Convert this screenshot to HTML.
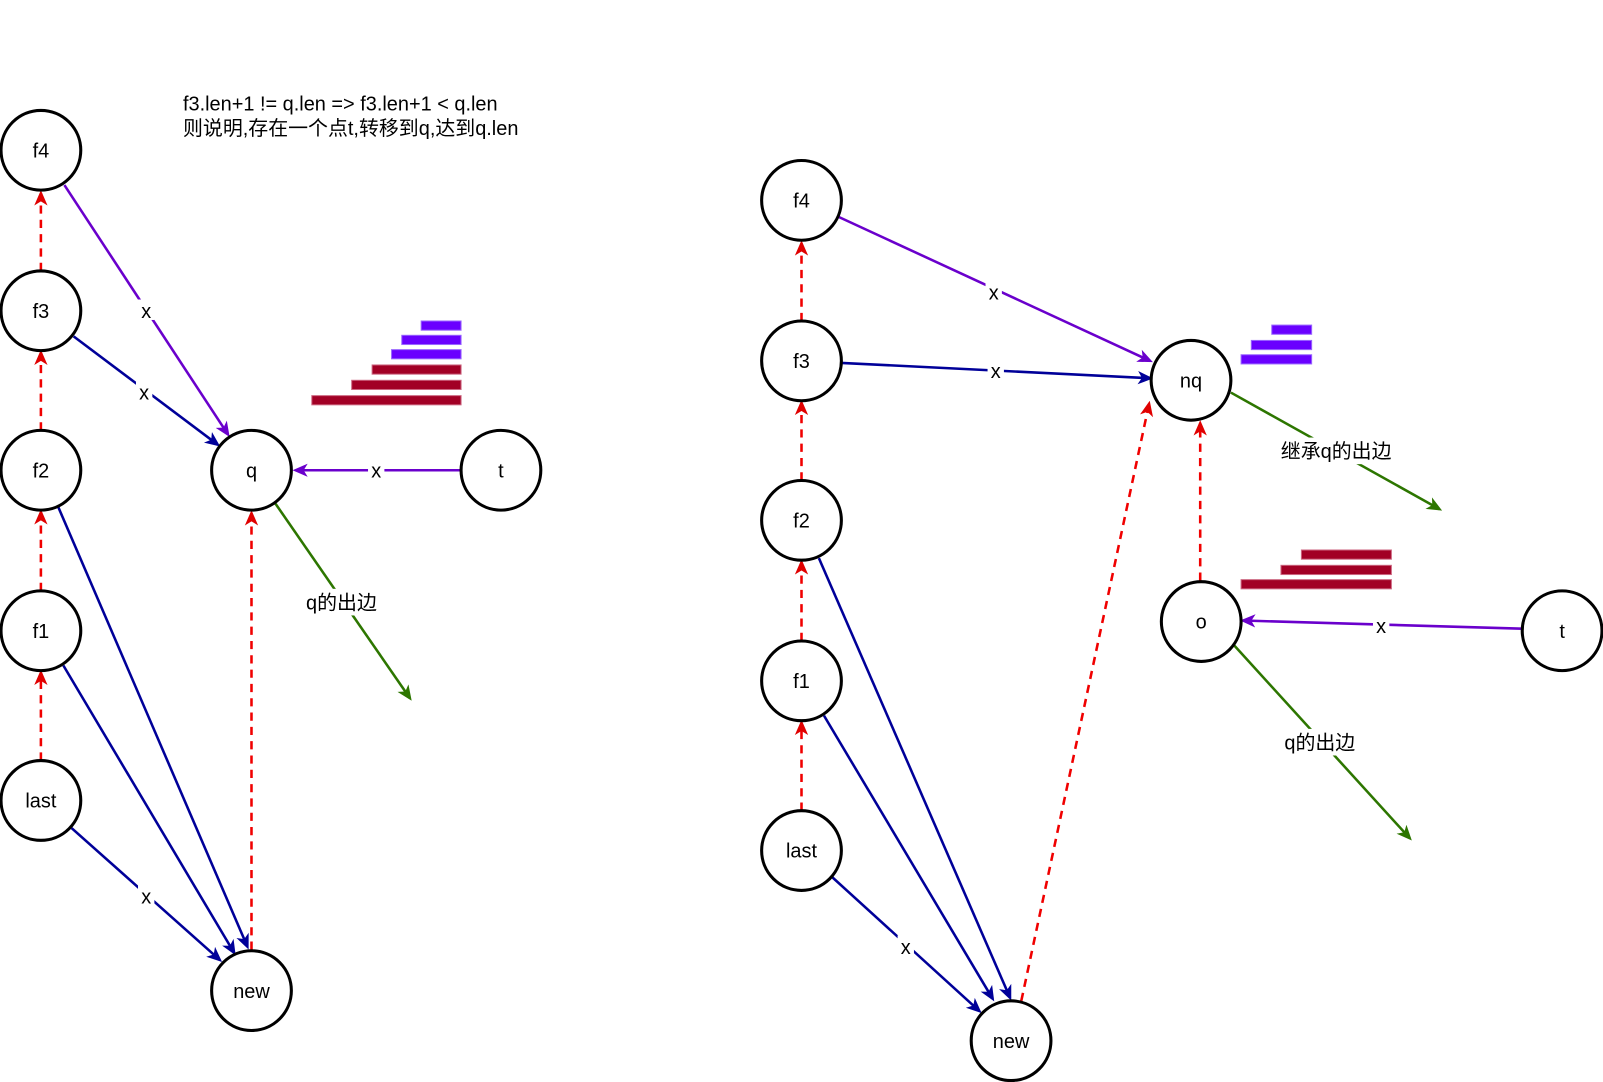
<!DOCTYPE html>
<html><head><meta charset="utf-8"><style>
html,body{margin:0;padding:0;background:#fff;}
svg{display:block;}
text{font-family:"Liberation Sans","Noto Sans CJK SC",sans-serif;font-size:19.5px;fill:#000;}
</style></head><body>
<svg width="1603" height="1082" viewBox="0 0 1568 1058.4" preserveAspectRatio="none" xmlns="http://www.w3.org/2000/svg">
<defs>
<marker id="mb" markerWidth="15" markerHeight="15" refX="12" refY="7.5" orient="auto" markerUnits="userSpaceOnUse"><path d="M0,1 L15,7.5 L0,14 L4,7.5 Z" fill="#000099"/></marker>
<marker id="mp" markerWidth="15" markerHeight="15" refX="12" refY="7.5" orient="auto" markerUnits="userSpaceOnUse"><path d="M0,1 L15,7.5 L0,14 L4,7.5 Z" fill="#6a00cc"/></marker>
<marker id="mr" markerWidth="15" markerHeight="15" refX="12" refY="7.5" orient="auto" markerUnits="userSpaceOnUse"><path d="M0,1 L15,7.5 L0,14 L4,7.5 Z" fill="#e00000"/></marker>
<marker id="mg" markerWidth="15" markerHeight="15" refX="12" refY="7.5" orient="auto" markerUnits="userSpaceOnUse"><path d="M0,1 L15,7.5 L0,14 L4,7.5 Z" fill="#2d7600"/></marker>
</defs>
<g fill="none" stroke-width="2.5">
<g stroke="#f00000" stroke-dasharray="8,6" marker-end="url(#mr)">
<line x1="40" y1="265" x2="40" y2="189"/>
<line x1="40" y1="421" x2="40" y2="345"/>
<line x1="40" y1="578" x2="40" y2="501"/>
<line x1="40" y1="744" x2="40" y2="658"/>
<line x1="246" y1="929" x2="246" y2="502"/>
<line x1="784" y1="314" x2="784" y2="238"/>
<line x1="784" y1="470" x2="784" y2="394"/>
<line x1="784" y1="627" x2="784" y2="550"/>
<line x1="784" y1="793" x2="784" y2="707"/>
<line x1="999" y1="979" x2="1124" y2="395"/>
<line x1="1174" y1="568" x2="1174" y2="414"/>
</g>
<g stroke="#6a00cc" marker-end="url(#mp)">
<line x1="63" y1="181" x2="223" y2="425"/>
<line x1="451" y1="460" x2="289" y2="460"/>
<line x1="820" y1="212" x2="1125" y2="353"/>
<line x1="1489" y1="615" x2="1216" y2="607"/>
</g>
<g stroke="#000099" marker-end="url(#mb)">
<line x1="72" y1="329" x2="213" y2="435"/>
<line x1="57" y1="496" x2="242" y2="926"/>
<line x1="62" y1="651" x2="229" y2="932"/>
<line x1="70" y1="810" x2="215" y2="939"/>
<line x1="823" y1="355" x2="1125" y2="370"/>
<line x1="801" y1="546" x2="988" y2="976"/>
<line x1="806" y1="700" x2="971" y2="977"/>
<line x1="814" y1="858" x2="958" y2="989"/>
</g>
<g stroke="#2d7600" marker-end="url(#mg)">
<line x1="269" y1="492" x2="401" y2="683"/>
<line x1="1204" y1="384" x2="1408" y2="498"/>
<line x1="1206" y1="630" x2="1379" y2="820"/>
</g>
<g stroke="#000" fill="#fff" stroke-width="3">
<circle cx="40" cy="147" r="39"/><circle cx="40" cy="304" r="39"/><circle cx="40" cy="460" r="39"/>
<circle cx="40" cy="617" r="39"/><circle cx="40" cy="783" r="39"/><circle cx="246" cy="460" r="39"/>
<circle cx="490" cy="460" r="39"/><circle cx="246" cy="969" r="39"/>
<circle cx="784" cy="196" r="39"/><circle cx="784" cy="353" r="39"/><circle cx="784" cy="509" r="39"/>
<circle cx="784" cy="666" r="39"/><circle cx="784" cy="832" r="39"/><circle cx="1165" cy="372" r="39"/>
<circle cx="1175" cy="608" r="39"/><circle cx="1528" cy="617" r="39"/><circle cx="989" cy="1018" r="39"/>
</g>
</g>
<g stroke-width="1">
<g fill="#6a00ff" stroke="#9966ff">
<rect x="412" y="314" width="39" height="9"/><rect x="393" y="328" width="58" height="9"/><rect x="383" y="342" width="68" height="9"/>
<rect x="1244" y="318" width="39" height="9"/><rect x="1224" y="333" width="59" height="9"/><rect x="1214" y="347" width="69" height="9"/>
</g>
<g fill="#a20025" stroke="#cc6680">
<rect x="364" y="357" width="87" height="9"/><rect x="344" y="372" width="107" height="9"/><rect x="305" y="387" width="146" height="9"/>
<rect x="1273" y="538" width="88" height="9"/><rect x="1253" y="553" width="108" height="9"/><rect x="1214" y="567" width="147" height="9"/>
</g>
</g>
<g text-anchor="middle">
<text x="40" y="154">f4</text><text x="40" y="311">f3</text><text x="40" y="467">f2</text><text x="40" y="624">f1</text><text x="40" y="790">last</text>
<text x="246" y="467">q</text><text x="490" y="467">t</text><text x="246" y="976">new</text>
<text x="784" y="203">f4</text><text x="784" y="360">f3</text><text x="784" y="516">f2</text><text x="784" y="673">f1</text><text x="784" y="839">last</text>
<text x="1165" y="379">nq</text><text x="1175" y="615">o</text><text x="1528" y="624">t</text><text x="989" y="1025">new</text>
</g>
<g text-anchor="middle">
<rect x="135" y="293" width="16" height="20" fill="#fff"/><text x="143" y="311">x</text>
<rect x="133" y="373" width="16" height="20" fill="#fff"/><text x="141" y="391">x</text>
<rect x="360" y="449" width="16" height="20" fill="#fff"/><text x="368" y="467">x</text>
<rect x="135" y="866" width="16" height="20" fill="#fff"/><text x="143" y="884">x</text>
<rect x="964" y="275" width="16" height="20" fill="#fff"/><text x="972" y="293">x</text>
<rect x="966" y="352" width="16" height="20" fill="#fff"/><text x="974" y="370">x</text>
<rect x="878" y="915" width="16" height="20" fill="#fff"/><text x="886" y="933">x</text>
<rect x="1343" y="601" width="16" height="20" fill="#fff"/><text x="1351" y="619">x</text>
<rect x="292" y="576" width="84" height="26" fill="#fff"/><text x="334" y="596">q的出边</text>
<rect x="1246" y="428" width="122" height="26" fill="#fff"/><text x="1307" y="448">继承q的出边</text>
<rect x="1249" y="713" width="84" height="26" fill="#fff"/><text x="1291" y="733">q的出边</text>
</g>
<text x="179" y="108">f3.len+1 != q.len =&gt; f3.len+1 &lt; q.len</text>
<text x="179" y="132">则说明,存在一个点t,转移到q,达到q.len</text>
</svg>
</body></html>
